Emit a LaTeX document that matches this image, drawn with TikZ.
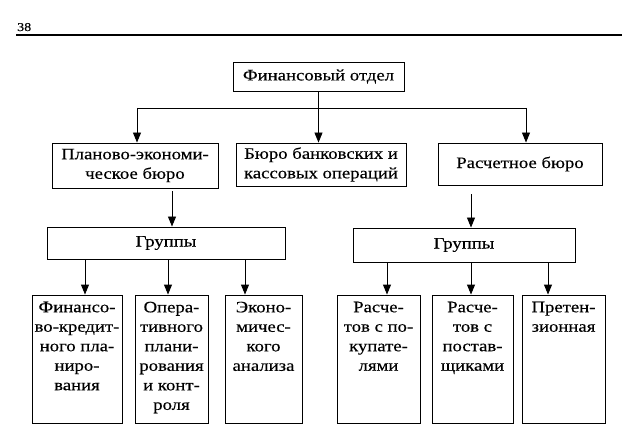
\documentclass[tikz,border=0pt]{standalone}
\usepackage{fontspec}
\setmainfont{Liberation Serif}[FakeStretch=1.17,FakeBold=0.3]
\usetikzlibrary{arrows.meta}
\begin{document}
\begin{tikzpicture}[x=1pt,y=-1pt,
  every node/.style={font=\fontsize{16}{19.5}\selectfont, inner sep=0pt},
  box/.style={draw, line width=0.9pt, align=center, minimum width=#1},
  leaf/.style={draw, line width=0.9pt, minimum width=#1, minimum height=128pt},
  leaftext/.style={anchor=north, align=center, yshift=-7pt},
  arr/.style={line width=0.9pt, -{Triangle[length=10pt,width=8pt]}},
  ln/.style={line width=0.9pt}]
\useasboundingbox (0,0) rectangle (626,438);
% header
\node[anchor=base west, font=\fontsize{12}{14}\selectfont] (pg) at (17,31) {38};
\coordinate (hl) at (16,35);
\coordinate (hr) at (622,35);
\draw[line width=1.2pt] (hl) -- (hr);
% level 1
\node[box=171pt, minimum height=29pt] (top) at (318.5,76.5) {Финансовый отдел};
% level 2
\node[box=166pt, minimum height=45pt] (b1) at (135,165.5) {Планово-экономи-\\ческое бюро};
\node[box=170pt, minimum height=43pt] (b2) at (321,164.5) {Бюро банковских и\\кассовых операций};
\node[box=164pt, minimum height=42pt] (b3) at (520,164) {Расчетное бюро};
% groups
\node[box=238pt, minimum height=32pt] (g1) at (166,243) {Группы};
\node[box=222pt, minimum height=34pt] (g2) at (464,245) {Группы};
% leaves
\node[leaf=90pt] (la) at (77,359) {};
\node[leaf=73pt] (lb) at (171.5,359) {};
\node[leaf=77pt] (lc) at (263.5,359) {};
\node[leaf=83pt] (ld) at (378.5,359) {};
\node[leaf=81pt] (le) at (472.5,359) {};
\node[leaf=83pt] (lf) at (563.5,359) {};
\node[leaftext] (ta) at (la.north) {Финансо-\\во-кредит-\\ного пла-\\ниро-\\вания};
\node[leaftext] (tb) at (lb.north) {Опера-\\тивного\\плани-\\рования\\и конт-\\роля};
\node[leaftext] (tc) at (lc.north) {Эконо-\\мичес-\\кого\\анализа};
\node[leaftext] (td) at (ld.north) {Расче-\\тов с по-\\купате-\\лями};
\node[leaftext] (te) at (le.north) {Расче-\\тов с\\постав-\\щиками};
\node[leaftext] (tf) at (lf.north) {Претен-\\зионная};
% connectors level 1 -> 2
\coordinate (jl) at (137,108);
\coordinate (jr) at (526,108);
\draw[ln] (jl) -- (jr);
\draw[arr] (top.south) -- (top.south |- b2.north);
\draw[arr] (jl) -- (jl |- b1.north);
\draw[arr] (jr) -- (jr |- b3.north);
% level 2 -> groups
\coordinate (x1) at (172,0);
\coordinate (x2) at (471,0);
\draw[arr, shorten <=3pt] (b1.south -| x1) -- (g1.north -| x1);
\draw[arr, shorten <=9pt] (b3.south -| x2) -- (g2.north -| x2);
% groups -> leaves
\coordinate (xa) at (85,0);
\coordinate (xb) at (168,0);
\coordinate (xc) at (245,0);
\coordinate (xd) at (387,0);
\coordinate (xe) at (471,0);
\coordinate (xf) at (548,0);
\draw[arr] (g1.south -| xa) -- (la.north -| xa);
\draw[arr] (g1.south -| xb) -- (lb.north -| xb);
\draw[arr] (g1.south -| xc) -- (lc.north -| xc);
\draw[arr] (g2.south -| xd) -- (ld.north -| xd);
\draw[arr] (g2.south -| xe) -- (le.north -| xe);
\draw[arr] (g2.south -| xf) -- (lf.north -| xf);
\end{tikzpicture}
\end{document}
